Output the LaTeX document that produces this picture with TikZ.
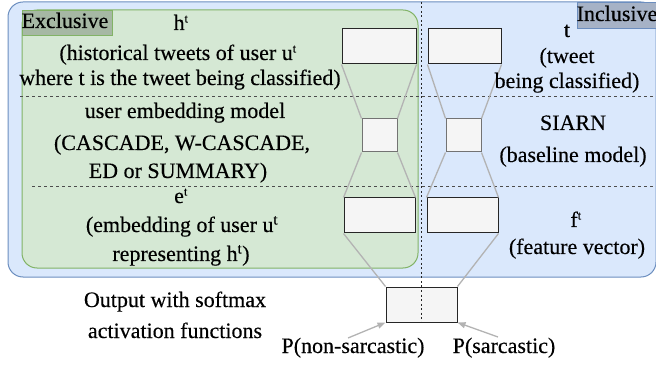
\documentclass[tikz,border=0pt]{standalone}
\usepackage{fontspec}
\setmainfont{Liberation Serif}[FakeBold=0.3]
\usetikzlibrary{arrows.meta}
\definecolor{bluefill}{HTML}{DAE8FC}
\definecolor{blueline}{HTML}{6C8EBF}
\definecolor{greenfill}{HTML}{D5E8D4}
\definecolor{greenline}{HTML}{82B366}
\definecolor{exfill}{HTML}{A6B8A4}
\definecolor{infill}{HTML}{A6B2C6}
\definecolor{boxfill}{HTML}{F5F5F5}
\definecolor{conn}{HTML}{B3B3B3}
\tikzset{
  txt/.style={anchor=base, inner sep=0pt, font=\fontsize{22}{26}\selectfont},
  layerbox/.style={draw=black!85, fill=boxfill, line width=1pt},
  midbox/.style={draw=black!55, fill=boxfill, line width=1pt},
  funnel/.style={draw=conn, line width=1.3pt},
  sep/.style={draw=black!70, line width=1pt, dash pattern=on 3pt off 3pt},
  vsep/.style={draw=black!85, line width=1pt, dash pattern=on 2pt off 2.5pt},
  parrow/.style={draw=conn, line width=1.3pt, -{Triangle[length=8pt,width=6pt]}},
}
\begin{document}
\begin{tikzpicture}[x=1pt,y=-1pt]
\useasboundingbox (0,0) rectangle (656,366);
% regions
\draw[fill=bluefill, draw=blueline, line width=1pt, rounded corners=15pt] (8,2) rectangle (656,277);
\draw[fill=greenfill, draw=greenline, line width=1pt, rounded corners=15pt] (22,10) rectangle (418,268);
\node[draw=greenline, fill=exfill, line width=0.8pt, minimum width=90pt, minimum height=25pt, inner sep=0pt, anchor=north west] (excl) at (22,10) {};
\node[txt] (excltxt) at (65,28) {Exclusive};
\node[draw=blueline, fill=infill, line width=0.8pt, minimum width=80pt, minimum height=26pt, inner sep=0pt, anchor=north west] (incl) at (577,2) {};
\node[txt] (incltxt) at (617,21) {Inclusive};
% separators
\coordinate (s1a) at (20,97); \coordinate (s1b) at (656,97);
\coordinate (s2a) at (32,187); \coordinate (s2b) at (656,187);
\draw[sep] (s1a) -- (s1b);
\draw[sep] (s2a) -- (s2b);
% boxes
\node[layerbox, minimum width=74pt, minimum height=35pt, inner sep=0pt] (ltop) at (379,46.5) {};
\node[layerbox, minimum width=73pt, minimum height=35pt, inner sep=0pt] (rtop) at (464.5,46.5) {};
\node[midbox, minimum width=35pt, minimum height=33pt, inner sep=0pt] (lmid) at (379.5,135.5) {};
\node[midbox, minimum width=35pt, minimum height=33pt, inner sep=0pt] (rmid) at (463.5,135.5) {};
\node[layerbox, minimum width=71pt, minimum height=35pt, inner sep=0pt] (lbot) at (379.5,215.5) {};
\node[layerbox, minimum width=71pt, minimum height=35pt, inner sep=0pt] (rbot) at (462.5,215.5) {};
\node[layerbox, minimum width=71pt, minimum height=35pt, inner sep=0pt] (out) at (421.5,304.5) {};
% funnels
\draw[funnel] (ltop.south west) -- (lmid.north west);
\draw[funnel] (ltop.south east) -- (lmid.north east);
\draw[funnel] (rtop.south west) -- (rmid.north west);
\draw[funnel] (rtop.south east) -- (rmid.north east);
\draw[funnel] (lmid.south west) -- (lbot.north west);
\draw[funnel] (lmid.south east) -- (lbot.north east);
\draw[funnel] (rmid.south west) -- (rbot.north west);
\draw[funnel] (rmid.south east) -- (rbot.north east);
\draw[funnel] (lbot.south west) -- (out.north west);
\draw[funnel] (rbot.south east) -- (out.north east);
% vertical divider
\coordinate (v1) at (421.5,2); \coordinate (v2) at (421.5,322);
\draw[vsep] (v1) -- (v2);
% left texts
\node[txt] (h) at (181,30) {h\textsuperscript{\fontsize{12}{12}\selectfont t}};
\node[txt] (h1) at (178,60) {(historical tweets of user u\textsuperscript{\fontsize{12}{12}\selectfont t}};
\node[txt] (h2) at (180,85) {where t is the tweet being classified)};
\node[txt] (m0) at (185,118) {user embedding model};
\node[txt] (m1) at (182,150) {(CASCADE, W-CASCADE,};
\node[txt] (m2) at (178,178) {ED or SUMMARY)};
\node[txt] (e0) at (181,203) {e\textsuperscript{\fontsize{12}{12}\selectfont t}};
\node[txt] (e1) at (182,232) {(embedding of user u\textsuperscript{\fontsize{15}{15}\selectfont t}};
\node[txt] (e2) at (181,261) {representing h\textsuperscript{\fontsize{15}{15}\selectfont t})};
% right texts
\node[txt] (t0) at (567,37) {t};
\node[txt] (t1) at (567,63) {(tweet};
\node[txt] (t2) at (567,88) {being classified)};
\node[txt] (b0) at (573,130) {SIARN};
\node[txt] (b1) at (573,162) {(baseline model)};
\node[txt] (f0) at (576,227) {f\textsuperscript{\fontsize{12}{12}\selectfont t}};
\node[txt] (f1) at (577,254) {(feature vector)};
% output texts
\node[txt] (o1) at (175,307) {Output with softmax};
\node[txt] (o2) at (175,338) {activation functions};
\node[txt] (pn) at (353,353) {P(non-sarcastic)};
\node[txt] (ps) at (504,353) {P(sarcastic)};
\coordinate (pna) at (348,338);
\coordinate (psa) at (498,337);
\draw[parrow] (pna) -- (out.south west);
\draw[parrow] (psa) -- (out.south east);
\end{tikzpicture}
\end{document}
